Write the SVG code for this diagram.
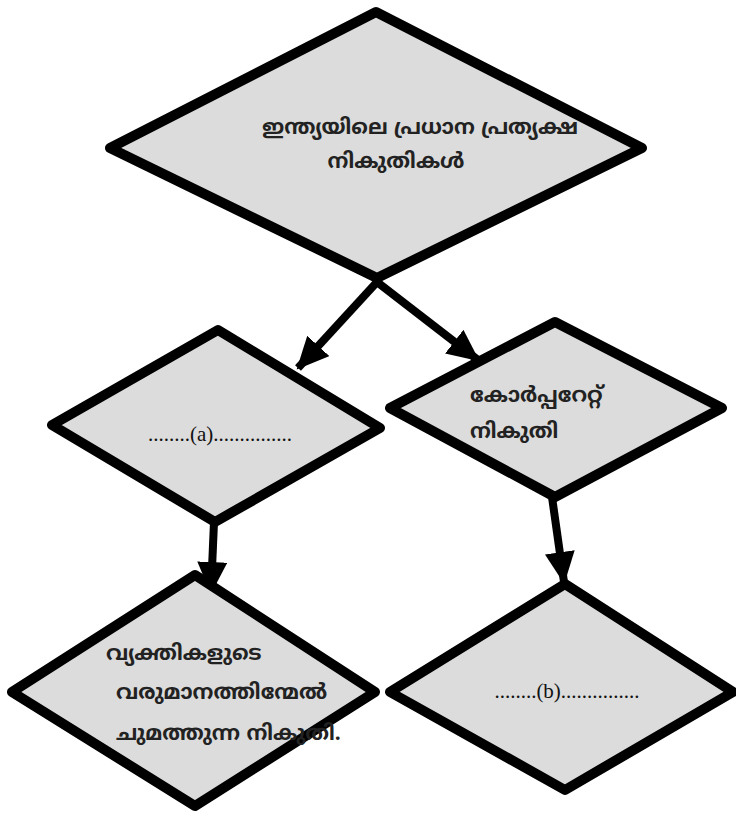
<svg xmlns="http://www.w3.org/2000/svg" width="736" height="813" viewBox="0 0 736 813">
<style>
.node{fill:#dcdcdc;stroke:#000;stroke-width:10;stroke-linejoin:round}
.ml{font-family:"Noto Sans Malayalam","Noto Sans","DejaVu Sans",sans-serif;font-size:21px;font-weight:bold;fill:#222}
.dots{font-family:"Liberation Serif",serif;font-size:21px;fill:#111}
.conn{stroke:#000;stroke-width:8;fill:none}
</style>
<defs>
<marker id="ah" markerUnits="userSpaceOnUse" markerWidth="34" markerHeight="30" refX="30" refY="15" orient="auto">
<path d="M0,0 L32,15 L0,30 Z" fill="#000"/>
</marker>
</defs>
<rect width="736" height="813" fill="#fff"/>
<g id="connectors">
<line class="conn" x1="377" y1="282" x2="298" y2="368" marker-end="url(#ah)"/>
<line class="conn" x1="377" y1="282" x2="478" y2="360" marker-end="url(#ah)"/>
<line class="conn" x1="214" y1="522" x2="211" y2="592" marker-end="url(#ah)"/>
<line class="conn" x1="552" y1="497" x2="564" y2="582" marker-end="url(#ah)"/>
</g>
<g id="top">
<polygon class="node" points="376,12 642,148 377,278 110,148"/>
<text class="ml" x="420" y="134" text-anchor="middle">ഇന്ത്യയിലെ പ്രധാന പ്രത്യക്ഷ</text>
<text class="ml" x="396" y="168" text-anchor="middle">നികുതികൾ</text>
</g>
<g id="a">
<polygon class="node" points="218,330 380,428 215,522 52,425"/>
<text class="dots" x="220" y="441" text-anchor="middle">........(a)...............</text>
</g>
<g id="corporate">
<polygon class="node" points="555,322 722,408 555,497 390,408"/>
<text class="ml" x="470" y="402">കോർപ്പറേറ്റ്</text>
<text class="ml" x="470" y="438">നികുതി</text>
</g>
<g id="individual">
<polygon class="node" points="195,575 375,692 195,806 12,692"/>
<text class="ml" x="106" y="660">വ്യക്തികളുടെ</text>
<text class="ml" x="116" y="699">വരുമാനത്തിന്മേൽ</text>
<text class="ml" x="116" y="740">ചുമത്തുന്ന നികുതി.</text>
</g>
<g id="b">
<polygon class="node" points="565,584 733,692 565,790 390,692"/>
<text class="dots" x="567" y="698" text-anchor="middle">........(b)...............</text>
</g>
</svg>
